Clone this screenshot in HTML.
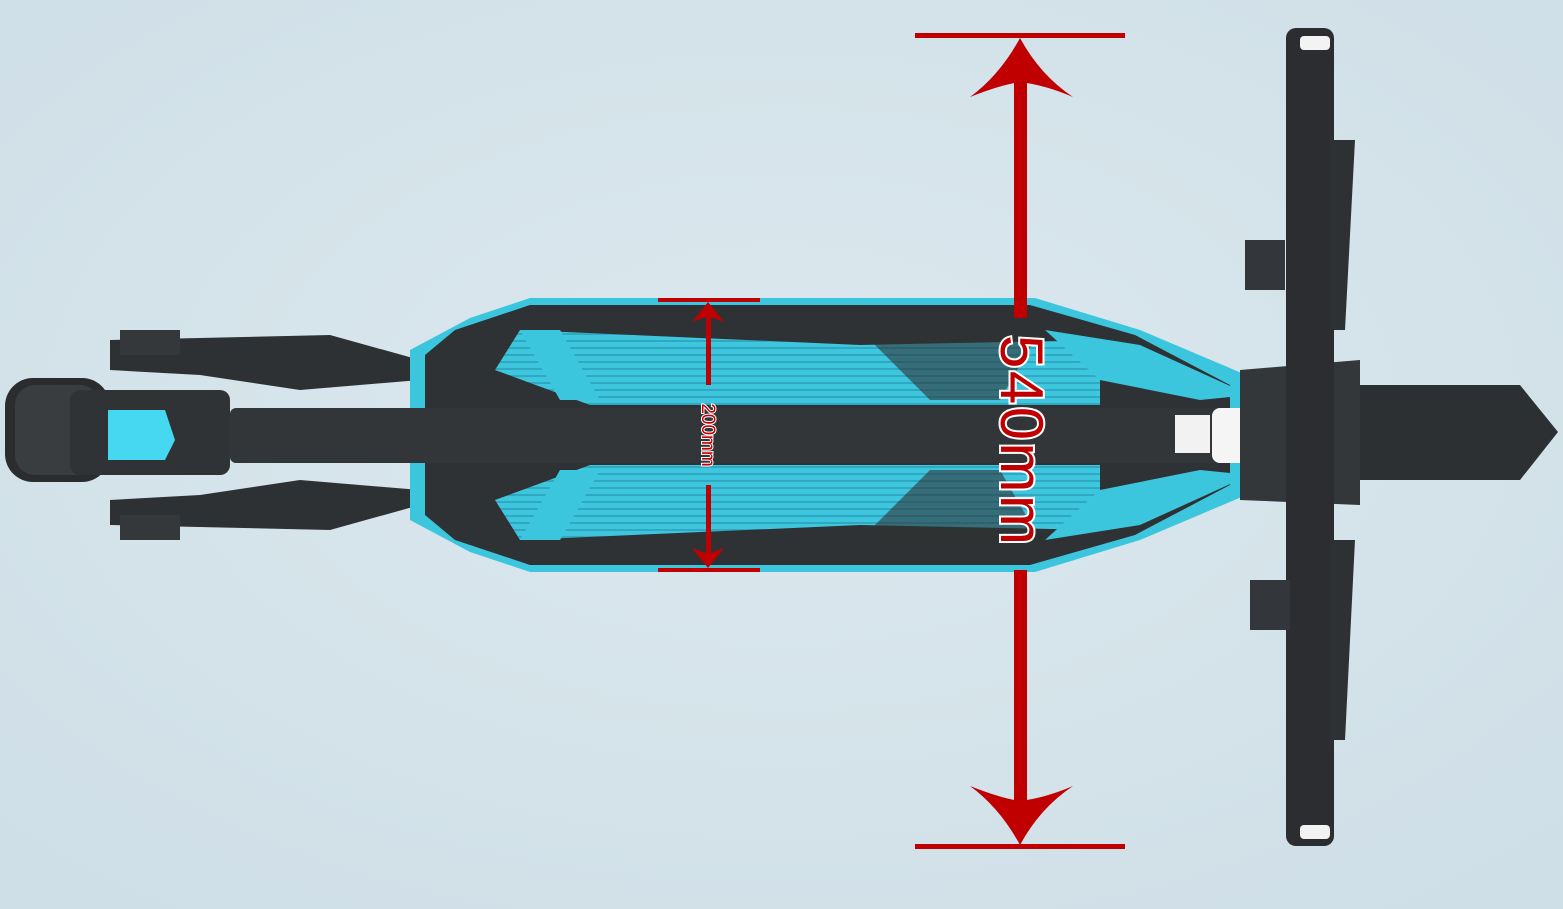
<!DOCTYPE html>
<html><head><style>
html,body{margin:0;padding:0;width:1563px;height:909px;overflow:hidden;background:#d6e4eb}
svg{display:block}
</style></head><body>
<svg width="1563" height="909" viewBox="0 0 1563 909" xmlns="http://www.w3.org/2000/svg">
<defs>
<radialGradient id="bg" cx="50%" cy="45%" r="70%"><stop offset="0" stop-color="#dce8ee"/><stop offset="1" stop-color="#cfdfe7"/></radialGradient>
<pattern id="rib" width="10" height="7" patternUnits="userSpaceOnUse"><rect width="10" height="7" fill="#3fc6df"/><rect y="4" width="10" height="2" fill="#2fa9c2"/></pattern>
</defs>
<rect width="1563" height="909" fill="url(#bg)"/>
<path d="M110 340 L330 335 L420 360 L420 380 L300 390 L200 375 L110 370Z" fill="#2e3134"/>
<path d="M110 525 L330 530 L420 505 L420 490 L300 480 L200 495 L110 500Z" fill="#2e3134"/>
<rect x="120" y="330" width="60" height="25" fill="#35383b"/>
<rect x="120" y="515" width="60" height="25" fill="#35383b"/>
<rect x="5" y="378" width="105" height="104" rx="28" fill="#2a2c2e"/>
<rect x="15" y="385" width="85" height="90" rx="20" fill="#3a3d40"/>
<rect x="70" y="390" width="160" height="85" rx="10" fill="#303336"/>
<path d="M108 410 L165 410 L175 440 L165 460 L108 460Z" fill="#45d8f0"/>
<path d="M470 318 L530 298 L1035 298 L1140 330 L1270 385 L1270 485 L1140 540 L1035 572 L530 572 L470 552 L410 520 L410 350Z" fill="#3cc6de"/>
<path d="M455 330 L530 305 L1030 305 L1135 335 L1230 385 L1230 485 L1135 535 L1030 565 L530 565 L455 540 L425 515 L425 355Z" fill="#2f3234"/>
<path d="M520 330 L860 345 L1100 340 L1100 405 L590 405 L495 370Z" fill="url(#rib)"/>
<path d="M520 540 L860 525 L1100 530 L1100 465 L590 465 L495 500Z" fill="url(#rib)"/>
<path d="M1045 330 L1140 345 L1250 395 L1200 400 L1100 380Z" fill="#3cc6de"/>
<path d="M1045 540 L1140 525 L1250 475 L1200 470 L1100 490Z" fill="#3cc6de"/>
<path d="M520 330 L560 330 L600 400 L560 400Z" fill="#3cc6de"/>
<path d="M520 540 L560 540 L600 470 L560 470Z" fill="#3cc6de"/>
<path d="M860 330 L1040 330 L1000 400 L930 400Z" fill="#2f3234" opacity=".6"/>
<path d="M860 540 L1040 540 L1000 470 L930 470Z" fill="#2f3234" opacity=".6"/>
<rect x="230" y="408" width="1050" height="55" rx="6" fill="#333639"/>
<rect x="1175" y="415" width="35" height="38" fill="#f2f2f2"/>
<rect x="1212" y="408" width="35" height="55" rx="8" fill="#f5f5f5"/>
<path d="M1330 385 L1520 385 L1558 432 L1520 480 L1330 480Z" fill="#2d3033"/>
<path d="M1240 370 L1360 360 L1360 505 L1240 500Z" fill="#34373a"/>
<rect x="1286" y="28" width="48" height="818" rx="10" fill="#2b2d30"/>
<rect x="1300" y="36" width="30" height="14" rx="4" fill="#f3f3f3"/>
<rect x="1300" y="825" width="30" height="14" rx="4" fill="#f3f3f3"/>
<path d="M1330 140 L1355 140 L1345 330 L1330 330Z" fill="#2e3134"/>
<path d="M1330 540 L1355 540 L1345 740 L1330 740Z" fill="#2e3134"/>
<rect x="1245" y="240" width="40" height="50" fill="#33363a"/>
<rect x="1250" y="580" width="40" height="50" fill="#33363a"/>
<g fill="#c00000" stroke="none">
<rect x="915" y="33" width="210" height="5"/>
<rect x="915" y="844" width="210" height="5"/>
<rect x="1014" y="60" width="13" height="258"/>
<rect x="1014" y="570" width="13" height="245"/>
<path d="M1020 38 Q1000 75 970 97 Q1000 85 1020 82 Q1045 85 1073 97 Q1040 75 1020 38Z"/>
<path d="M1020 845 Q1000 808 970 786 Q1000 798 1020 801 Q1045 798 1073 786 Q1040 808 1020 845Z"/>
<rect x="658" y="298" width="102" height="4"/>
<rect x="658" y="568" width="102" height="4"/>
<rect x="706" y="305" width="5" height="80"/>
<rect x="706" y="485" width="5" height="80"/>
<path d="M708 302 L692 322 L708 316 L724 322Z"/>
<path d="M708 568 L692 548 L708 554 L724 548Z"/>
</g>
<text transform="translate(1001,440) rotate(90)" text-anchor="middle" font-family="Liberation Sans, sans-serif" font-size="60" textLength="210" fill="#c00000" stroke="#fff" stroke-width="4" paint-order="stroke">540mm</text>
<text transform="translate(702,435) rotate(90)" text-anchor="middle" font-family="Liberation Sans, sans-serif" font-size="19" fill="#c00000" stroke="#fff" stroke-width="2" paint-order="stroke">200mm</text>
</svg>
</body></html>
